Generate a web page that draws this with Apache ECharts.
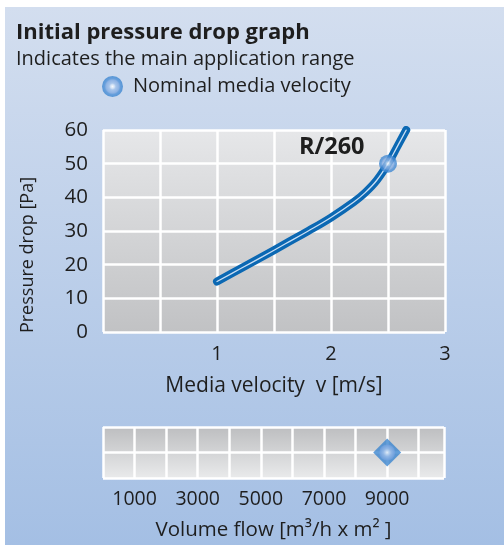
<!DOCTYPE html>
<html>
<head>
<meta charset="utf-8">
<script src="https://cdn.jsdelivr.net/npm/echarts@6/dist/echarts.min.js"></script>
<style>
html,body{margin:0;padding:0;background:#fff;}
#bg{position:absolute;left:5px;top:7px;width:499px;height:538px;background:linear-gradient(#d3deef,#a4bfe4);}
#chart{position:absolute;left:0;top:0;width:504px;height:545px;}
</style>
</head>
<body>
<div id="bg"></div>
<div id="chart"></div>
<script>
// Data
const curveVelocity = [1, 1.2, 1.4, 1.6, 1.8, 2, 2.2, 2.3, 2.4, 2.5, 2.58, 2.66];
const curvePressure = [15, 18.7, 22.4, 26.2, 30, 34, 38.6, 41.4, 45, 50, 55, 60];
const nominalVelocity = 2.5;
const nominalPressure = 50;
const nominalFlow = 9000;
const velocityLabels = [1, 2, 3];
const flowLabels = [1000, 3000, 5000, 7000, 9000];
const curveName = 'R/260';
const legendName = 'Nominal media velocity';

const FONT = 'Open Sans';
const curveData = curveVelocity.map((v, i) => [v, curvePressure[i]]);

const markerFill = {
  type: 'radial', x: 0.5, y: 0.5, r: 0.5,
  colorStops: [
    {offset: 0, color: '#ffffff'},
    {offset: 0.18, color: '#d6e4f6'},
    {offset: 0.32, color: '#9fc0ea'},
    {offset: 0.62, color: '#7ea8e0'},
    {offset: 0.75, color: '#4d90d7'},
    {offset: 1, color: '#3a84cf'}
  ]
};

const chart = echarts.init(document.getElementById('chart'), null, {renderer: 'canvas'});
chart.setOption({
  backgroundColor: 'transparent',
  animation: false,
  textStyle: {fontFamily: FONT},
  title: {
    text: 'Initial pressure drop graph',
    subtext: 'Indicates the main application range',
    left: 16, top: 22, padding: 0, itemGap: 5,
    textStyle: {fontFamily: FONT, fontWeight: 'bold', fontSize: 22, color: '#1e1e1e'},
    subtextStyle: {fontFamily: FONT, fontSize: 20, color: '#1e1e1e'}
  },
  legend: {
    data: [legendName],
    left: 102, top: 76, padding: 0,
    itemWidth: 21, itemHeight: 21, icon: 'circle',
    textStyle: {fontFamily: FONT, fontSize: 20, color: '#1e1e1e', padding: [2, 0, 0, 5]},
    selectedMode: false
  },
  grid: [
    {left: 103, top: 130, width: 342, height: 202, show: true, borderWidth: 0,
     backgroundColor: {type: 'linear', x: 0, y: 0, x2: 0, y2: 1,
       colorStops: [{offset: 0, color: '#e6e7e9'}, {offset: 1, color: '#c1c2c4'}]}},
    {left: 103, top: 427, width: 341, height: 51, show: true, borderWidth: 0,
     backgroundColor: {type: 'linear', x: 0, y: 0, x2: 0, y2: 1,
       colorStops: [{offset: 0, color: '#bdbec0'}, {offset: 1, color: '#e9eaeb'}]}}
  ],
  xAxis: [
    {type: 'value', gridIndex: 0, min: 0, max: 3, interval: 0.5,
     name: 'Media velocity  v [m/s]', nameLocation: 'middle', nameGap: 44,
     nameTextStyle: {fontFamily: FONT, fontSize: 21, color: '#1e1e1e'},
     axisLine: {show: false}, axisTick: {show: false},
     splitLine: {show: true, lineStyle: {color: '#ffffff', width: 2.5}},
     axisLabel: {margin: 12, fontSize: 20, color: '#1e1e1e', fontFamily: FONT,
       showMinLabel: true, showMaxLabel: true,
       formatter: v => velocityLabels.indexOf(v) >= 0 ? String(v) : ''}},
    {type: 'value', gridIndex: 1, min: 0, max: 10800, interval: 1000,
     name: 'Volume flow [m³/h x m² ]', nameLocation: 'middle', nameGap: 42,
     nameTextStyle: {fontFamily: FONT, fontSize: 20.5, color: '#1e1e1e'},
     axisLine: {show: false}, axisTick: {show: false},
     splitLine: {show: true, lineStyle: {color: '#ffffff', width: 2.5}},
     axisLabel: {margin: 11, fontSize: 19.5, color: '#1e1e1e', fontFamily: FONT,
       showMaxLabel: false,
       formatter: v => flowLabels.indexOf(v) >= 0 ? String(v) : ''}}
  ],
  yAxis: [
    {type: 'value', gridIndex: 0, min: 0, max: 60, interval: 10,
     name: 'Pressure drop [Pa]', nameLocation: 'middle', nameGap: 66, nameRotate: 90,
     nameTextStyle: {fontFamily: FONT, fontSize: 18, color: '#1e1e1e', padding: [0, 48, 0, 0]},
     axisLine: {show: false}, axisTick: {show: false},
     splitLine: {show: true, lineStyle: {color: '#ffffff', width: 2.5}},
     axisLabel: {margin: 15, fontSize: 20.5, color: '#1e1e1e', fontFamily: FONT}},
    {type: 'value', gridIndex: 1, min: 0, max: 2, interval: 1,
     axisLine: {show: false}, axisTick: {show: false}, axisLabel: {show: false},
     splitLine: {show: true, lineStyle: {color: '#ffffff', width: 2.5}}}
  ],
  series: [
    {name: curveName, type: 'line', xAxisIndex: 0, yAxisIndex: 0, data: curveData,
     smooth: 0.4, symbol: 'none', z: 3,
     lineStyle: {color: '#0b68b3', width: 8, cap: 'round', join: 'round'}},
    {name: curveName + ' highlight', type: 'line', xAxisIndex: 0, yAxisIndex: 0, data: curveData,
     smooth: 0.4, symbol: 'none', z: 4, silent: true,
     lineStyle: {color: 'rgba(235,243,255,0.85)', width: 1.3, cap: 'round'}},
    {name: legendName, type: 'scatter', xAxisIndex: 0, yAxisIndex: 0,
     data: [[nominalVelocity, nominalPressure]], symbol: 'circle', symbolSize: 18, z: 5,
     itemStyle: {color: markerFill}},
    {name: legendName + ' flow', type: 'scatter', xAxisIndex: 1, yAxisIndex: 1,
     data: [[nominalFlow, 1]], symbol: 'diamond', symbolSize: [28, 28], z: 5,
     itemStyle: {color: '#3b86cf'}},
    {name: legendName + ' flow inner', type: 'scatter', xAxisIndex: 1, yAxisIndex: 1,
     data: [[nominalFlow, 1]], symbol: 'circle', symbolSize: 16, z: 6,
     itemStyle: {color: {type: 'radial', x: 0.5, y: 0.5, r: 0.5,
       colorStops: [{offset: 0, color: '#ffffff'}, {offset: 0.25, color: '#c9dbf3'},
                    {offset: 0.5, color: '#9dbde9'}, {offset: 1, color: '#6e9edd'}]}}}
  ],
  graphic: [
    {type: 'text', left: 299, top: 135, z: 10,
     style: {text: curveName, fontFamily: FONT, fontWeight: 'bold', fontSize: 23.5, fill: '#1e1e1e'}}
  ]
});
</script>
</body>
</html>
